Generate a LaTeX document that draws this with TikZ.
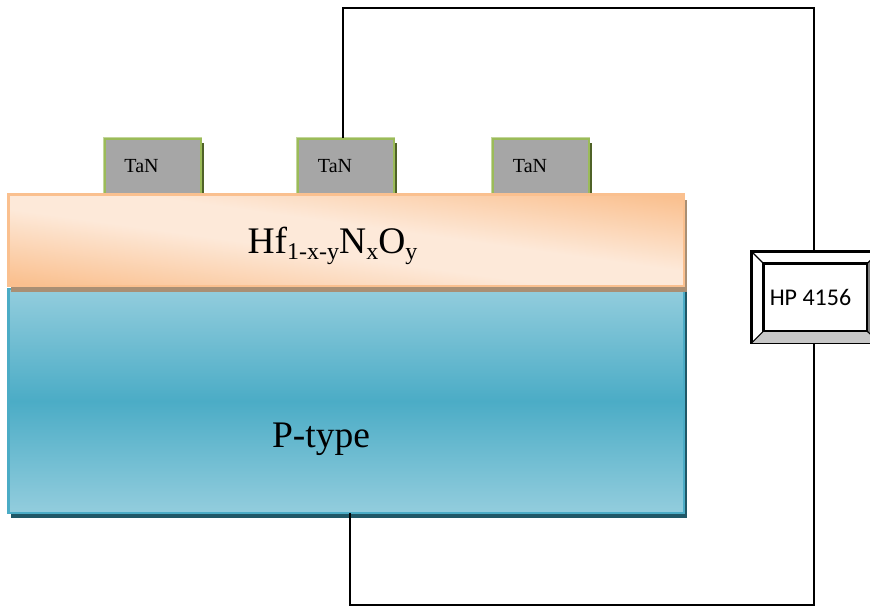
\documentclass[tikz,border=0pt]{standalone}
\usepackage{fontspec}
\setmainfont{Liberation Serif}
\newfontfamily\hpfont{Carlito}
\definecolor{orA}{HTML}{FAC08F}
\definecolor{orB}{HTML}{FDE9D9}
\definecolor{blA}{HTML}{93CDDD}
\definecolor{blB}{HTML}{4BACC6}
\definecolor{blD}{HTML}{205867}
\definecolor{orS}{HTML}{A98F74}
\definecolor{grA}{HTML}{9BBB59}
\definecolor{grL}{HTML}{C3D69B}
\definecolor{grD}{HTML}{4F6228}
\pgfdeclareverticalshading{hfband}{100bp}{color(0bp)=(orA); color(28bp)=(orA); color(46bp)=(orB); color(54bp)=(orB); color(72bp)=(orA); color(100bp)=(orA)}
\tikzset{
  wire/.style={draw=black,line width=2pt},
  tanbox/.style={rectangle,fill=black!35,minimum width=98pt,minimum height=55.5pt,inner sep=0pt,anchor=north west},
  tanlabel/.style={font=\fontsize{20}{22}\selectfont,inner sep=0pt,text=black},
  layerlabel/.style={font=\fontsize{37.5}{40}\selectfont,inner sep=0pt,text=black},
  bevelbox/.style={rectangle,draw=black,line width=1.6pt,inner sep=0pt},
}
\begin{document}
\begin{tikzpicture}[x=1pt,y=-1pt]
\clip (0,0) rectangle (870,606);
\useasboundingbox (0,0) rectangle (870,606);
% TaN contacts
\foreach \n/\xa in {1/104,2/297,3/492}{
  \fill[grD] (\xa+97,143) rectangle (\xa+100,194);
  \node[tanbox] (tan\n) at (\xa,138) {};
  \draw[grA,line width=2.5pt] (\xa+1,194) -- (\xa+1,139) -- (\xa+97,139) -- (\xa+97,194);
  \draw[grL,line width=.9pt] (\xa-.5,194) -- (\xa-.5,137.6) -- (\xa+98.4,137.6);
}
\node[tanlabel] (tanlabelA) at (141.5,166.5) {TaN};
\node[tanlabel] (tanlabelB) at (335,166.5) {TaN};
\node[tanlabel] (tanlabelC) at (530,166.5) {TaN};
% P-type layer
\fill[blD] (11,292) rectangle (687,518);
\node[rectangle,inner sep=0pt,minimum width=675.2pt,minimum height=223.5pt,anchor=north west] (ptype) at (8.5,289) {};
\shade[top color=blA,bottom color=blA,middle color=blB] (ptype.north west) rectangle (ptype.south east);
\draw[blB,line width=2.7pt] (ptype.north west) rectangle (ptype.south east);
\node[layerlabel] (ptypelabel) at (321,439) {P-type};
% Hf layer
\fill[orS] (11,200) rectangle (686.8,291.7);
\node[rectangle,inner sep=0pt,minimum width=675.2pt,minimum height=91pt,anchor=north west] (hf) at (8.5,194.7) {};
\begin{scope}
  \clip (hf.north west) rectangle (hf.south east);
  \shade[shading=hfband,transform canvas={rotate around={-8:(hf.center)}}] (-60,140) rectangle (760,340);
\end{scope}
\draw[orA,line width=2.7pt] (hf.north west) rectangle (hf.south east);
\node[layerlabel,anchor=base] (hflabel) at (332.5,253) {Hf\raisebox{-6.5pt}{\fontsize{24}{26}\selectfont 1-x-y}N\raisebox{-6.5pt}{\fontsize{24}{26}\selectfont x}O\raisebox{-6.5pt}{\fontsize{24}{26}\selectfont y}};
% HP 4156 instrument
\node[bevelbox,fill=white,minimum width=128pt,minimum height=91pt,anchor=north west] (hp) at (751,251) {};
\node[bevelbox,minimum width=103pt,minimum height=67pt,anchor=north west] (hpin) at (763,263) {};
\fill[black!50] (hp.north east) -- (hp.south east) -- (hpin.south east) -- (hpin.north east) -- cycle;
\fill[black!22] (hp.south west) -- (hp.south east) -- (hpin.south east) -- (hpin.south west) -- cycle;
\draw[bevelbox] (hp.north west) rectangle (hp.south east);
\draw[bevelbox] (hpin.north west) rectangle (hpin.south east);
\draw[black,line width=1.2pt] (hp.north west) -- (hpin.north west) (hp.south west) -- (hpin.south west) (hp.south east) -- (hpin.south east) (hp.north east) -- (hpin.north east);
\node[inner sep=0pt,text=black,font=\hpfont\fontsize{24}{26}\selectfont] (hptext) at (810.5,297) {HP 4156};
% wires
\coordinate (topleft) at (342.5,8);
\coordinate (topright) at (813.5,8);
\coordinate (botleft) at (349.5,605);
\coordinate (botright) at (813.5,605);
\draw[wire] (topleft |- tan2.north) -- (topleft) -- (topright) -- (topright |- hp.north);
\draw[wire] (botright |- hp.south) -- (botright) -- (botleft) -- (botleft |- ptype.south);
\end{tikzpicture}
\end{document}
